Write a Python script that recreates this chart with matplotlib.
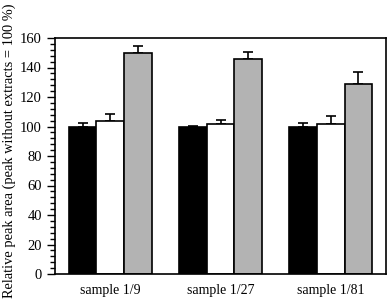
import matplotlib.pyplot as plt
import numpy as np
from matplotlib.ticker import MultipleLocator

plt.rcParams['font.family'] = ['Liberation Serif', 'DejaVu Serif']

samples = ["sample 1/9", "sample 1/27", "sample 1/81"]
black_vals = [100, 100, 100]
white_vals = [104, 102, 102]
gray_vals = [149.5, 145.5, 129]
black_err = [2.5, 0.3, 2.5]
white_err = [4.8, 2.5, 5.0]
gray_err = [5.2, 5.0, 8.0]

fig = plt.figure(figsize=(3.88, 3.04), dpi=100)
ax = fig.add_axes([55 / 388, 30 / 304, 331 / 388, 236 / 304])

x = np.arange(len(samples))
w = 0.25
series = [(black_vals, black_err, "black"),
          (white_vals, white_err, "white"),
          (gray_vals, gray_err, "#b3b3b3")]
for i, (vals, err, col) in enumerate(series):
    ax.bar(x + (i - 1) * w, vals, w, color=col, edgecolor="black",
           linewidth=1.2, zorder=2)
    ax.errorbar(x + (i - 1) * w, vals, yerr=[np.zeros(len(err)), err],
                fmt="none", ecolor="black", elinewidth=1.2, capsize=3.8,
                capthick=1.2, zorder=1)

ax.set_xlim(-0.5, 2.5)
ax.set_ylim(0, 160)
ax.set_xticks(x)
ax.set_xticklabels(samples, fontsize=10)
ax.tick_params(axis="x", length=0, pad=7)
ax.yaxis.set_major_locator(MultipleLocator(20))
ax.yaxis.set_minor_locator(MultipleLocator(4))
ax.tick_params(axis="y", which="major", length=6, width=1, labelsize=10.5, direction="out")
ax.tick_params(axis="y", which="minor", length=3.5, width=1, direction="out")
for s in ax.spines.values():
    s.set_linewidth(1.2)
fig.text(9 / 388, 1 - 151 / 304, "Relative peak area (peak without extracts = 100 %)",
         rotation=90, ha="center", va="center", fontsize=10.4)

fig.savefig("out.png", dpi=100)
